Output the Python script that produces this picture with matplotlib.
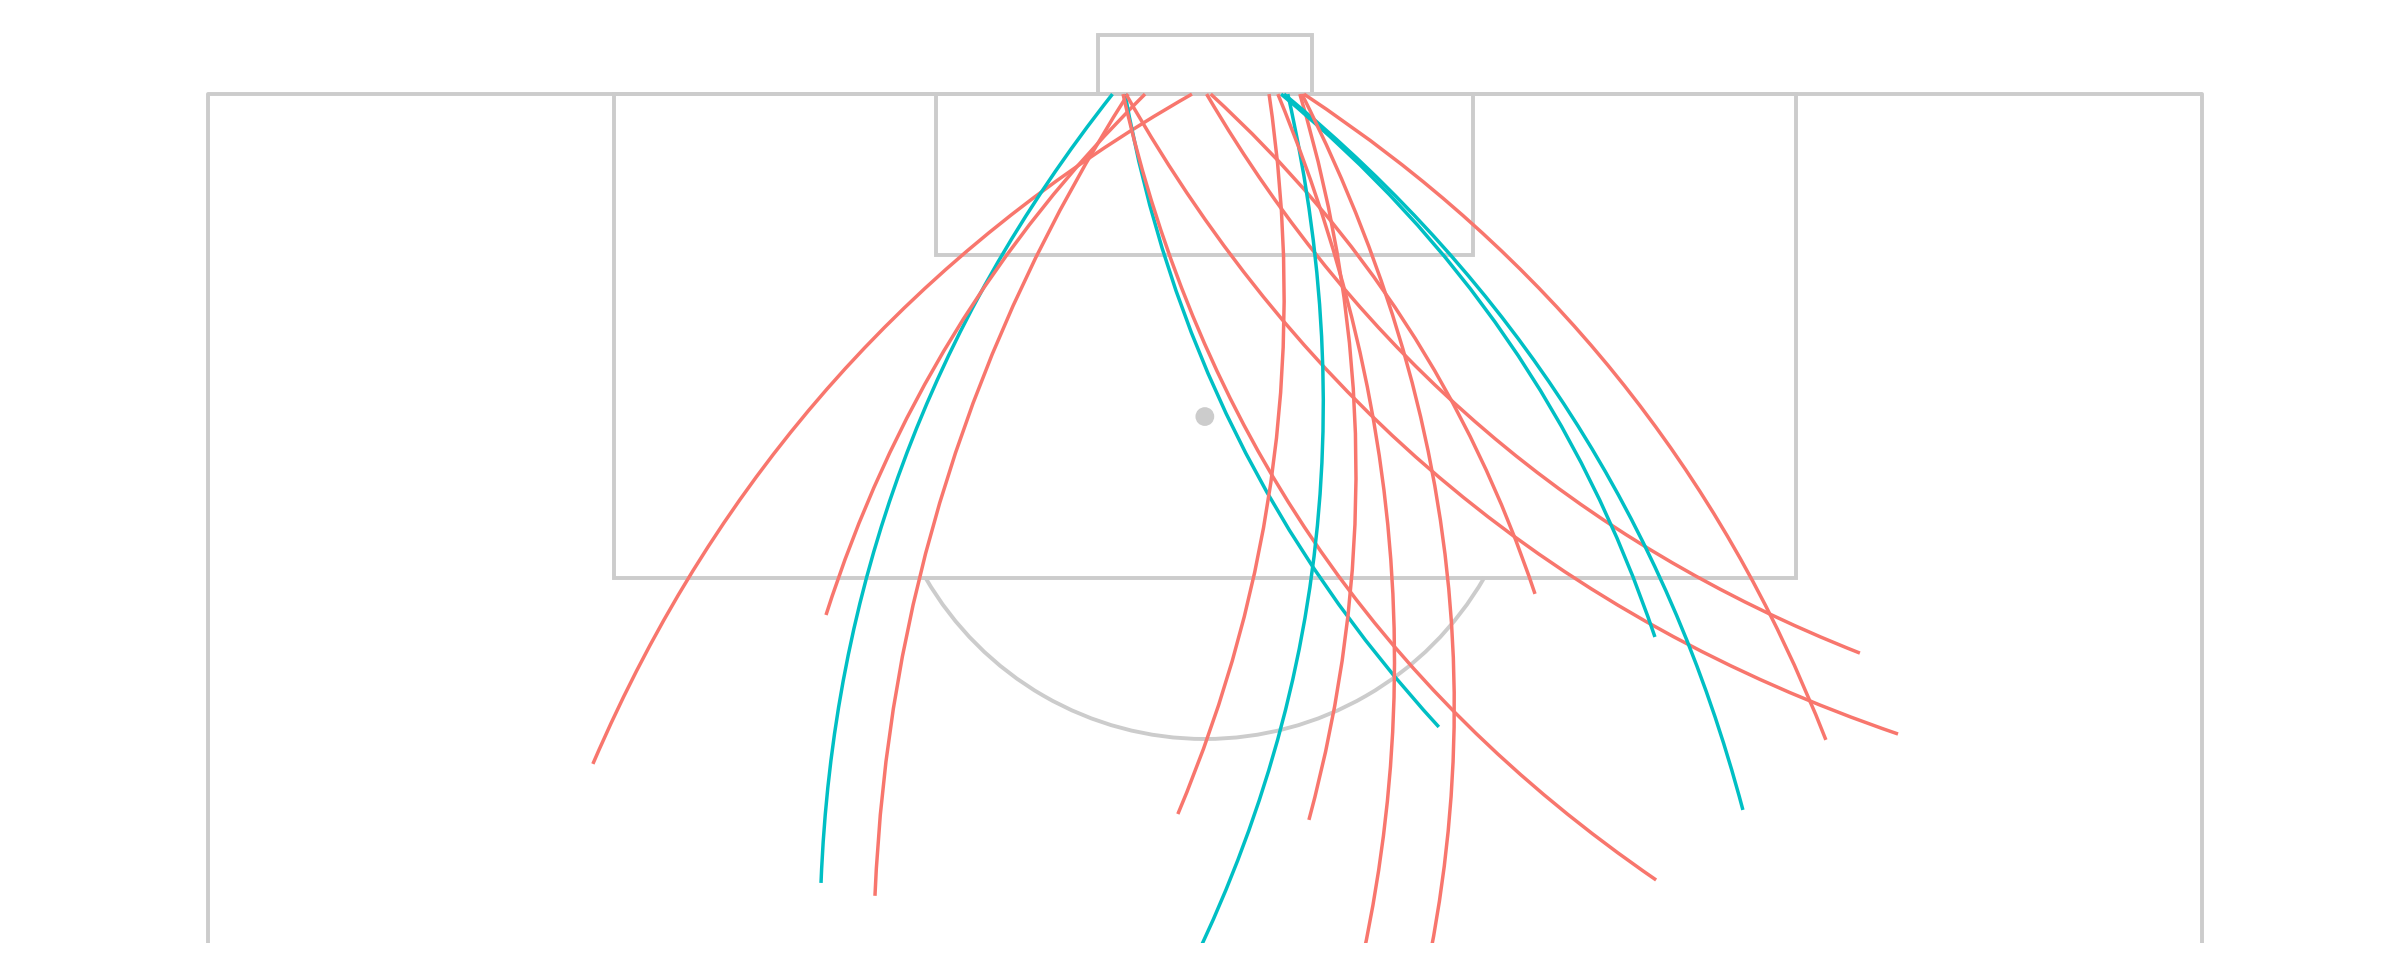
import matplotlib
matplotlib.use('Agg')
import matplotlib.pyplot as plt
from matplotlib.patches import Rectangle, Arc, Circle, FancyArrowPatch

# Shots against one goal, pitch in metres (68 m wide, depth measured from goal line)
goal_x = [33.56, 30.85, 31.96, 31.38, 31.28, 31.21, 31.31, 34.06, 34.20,
          36.19, 36.83, 37.24, 37.38, 36.60, 36.70, 36.49, 37.31]
shot_x = [13.13, 20.91, 21.08, 22.75, 41.98, 49.39, 57.64, 56.34, 45.26,
          33.08, 31.45, 37.55, 55.18, 49.35, 52.35, 36.90, 39.29]
shot_y = [22.85, 26.91, 17.77, 27.35, 21.59, 26.81, 21.83, 19.07, 17.05,
          24.56, 33.63, 24.76, 22.03, 18.52, 24.42, 37.72, 37.72]
bend = [0.168, 0.163, 0.123, 0.135, 0.146, 0.196, 0.19, 0.173, -0.13,
        -0.14, -0.2, -0.142, -0.159, -0.143, -0.161, -0.2, -0.22]
outcome = ['miss', 'goal', 'miss', 'miss', 'goal', 'miss', 'miss', 'miss', 'miss',
           'miss', 'goal', 'miss', 'miss', 'goal', 'goal', 'miss', 'miss']

colours = {'miss': '#F8766D', 'goal': '#00BFC4'}
line_col = '#CCCCCC'
pitch_lw = 2.8
shot_lw = 2.5

fig = plt.figure(figsize=(24, 9.77), dpi=100)
ax = fig.add_axes([0, 34 / 977, 1, 943 / 977])
ax.set_xlim(-7.09, 74.76)
ax.set_ylim(28.96, -3.21)
ax.axis('off')

# pitch markings
ax.plot([0, 0, 68, 68], [40, 0, 0, 40], color=line_col, lw=pitch_lw, zorder=1)
ax.add_patch(Rectangle((13.84, 0), 40.32, 16.5, fill=False, ec=line_col, lw=pitch_lw, zorder=1))
ax.add_patch(Rectangle((24.84, 0), 18.32, 5.5, fill=False, ec=line_col, lw=pitch_lw, zorder=1))
ax.add_patch(Rectangle((30.34, -2.0), 7.32, 2.0, fill=False, ec=line_col, lw=pitch_lw, zorder=1))
ax.add_patch(Arc((34, 11), 22, 22, theta1=30, theta2=150, ec=line_col, lw=pitch_lw, zorder=1))
ax.add_patch(Circle((34, 11), 0.32, fc=line_col, ec='none', zorder=1))

# shot trajectories
for gx, sx, sy, b, o in zip(goal_x, shot_x, shot_y, bend, outcome):
    arc = FancyArrowPatch((gx, 0), (sx, sy), connectionstyle=f'arc3,rad={b}',
                          arrowstyle='-', shrinkA=0, shrinkB=0,
                          color=colours[o], lw=shot_lw, capstyle='butt', zorder=3)
    ax.add_patch(arc)

fig.savefig('out.png', dpi=100)
